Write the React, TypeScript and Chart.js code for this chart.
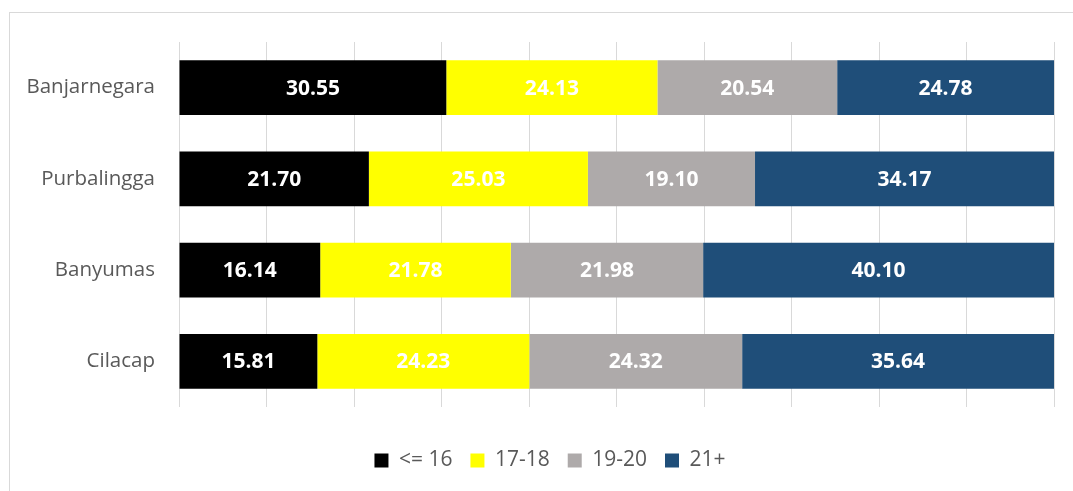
import React, { useEffect, useRef } from "react";
import { Chart, registerables } from "chart.js";

Chart.register(...registerables);

const categories = ["Banjarnegara", "Purbalingga", "Banyumas", "Cilacap"];
const seriesNames = ["<= 16", "17-18", "19-20", "21+"];
const age16 = [30.55, 21.7, 16.14, 15.81];
const age1718 = [24.13, 25.03, 21.78, 24.23];
const age1920 = [20.54, 19.1, 21.98, 24.32];
const age21 = [24.78, 34.17, 40.1, 35.64];
const seriesColors = ["#000000", "#FFFF00", "#AEAAAA", "#1F4E79"];
const xTicks = [0, 10, 20, 30, 40, 50, 60, 70, 80, 90, 100];

const valueLabels = {
  id: "valueLabels",
  afterDatasetsDraw(chart: any) {
    const ctx = chart.ctx;
    ctx.save();
    ctx.font = "bold 21px 'Open Sans', sans-serif";
    ctx.fillStyle = "#FFFFFF";
    ctx.textAlign = "center";
    ctx.textBaseline = "middle";
    chart.data.datasets.forEach((ds: any, i: number) => {
      const meta = chart.getDatasetMeta(i);
      meta.data.forEach((el: any, j: number) => {
        const v = ds.data[j];
        const cx = (el.x + el.base) / 2;
        ctx.fillText(Number(v).toFixed(2), cx, el.y + 1);
      });
    });
    ctx.restore();
  },
};

const legendShift = {
  id: "legendShift",
  afterLayout(chart: any) {
    if (chart.legend) {
      chart.legend.left += 36;
    }
  },
};

export default function App() {
  const ref = useRef<HTMLCanvasElement>(null);
  useEffect(() => {
    if (!ref.current) return;
    const data = [age16, age1718, age1920, age21];
    const chart = new Chart(ref.current, {
      type: "bar",
      data: {
        labels: categories,
        datasets: seriesNames.map((n, i) => ({
          label: n,
          data: data[i],
          backgroundColor: seriesColors[i],
          borderWidth: 0,
          barPercentage: 0.6,
          categoryPercentage: 1,
        })),
      },
      options: {
        indexAxis: "y",
        animation: false,
        responsive: false,
        maintainAspectRatio: false,
        layout: { padding: { top: 29, right: 20, left: 0, bottom: 10 } },
        scales: {
          x: {
            stacked: true,
            min: 0,
            max: 100,
            afterBuildTicks: (s: any) => {
              s.ticks = xTicks.map((v) => ({ value: v }));
            },
            ticks: { display: false },
            grid: { color: "#D9D9D9", lineWidth: 1, drawTicks: false },
            border: { display: false },
            afterFit: (s: any) => {
              s.height = 25;
              s.paddingLeft = 0;
              s.paddingRight = 0;
            },
          },
          y: {
            stacked: true,
            ticks: {
              color: "#595959",
              font: { family: "'Open Sans', sans-serif", size: 20.5 },
              padding: 24,
            },
            grid: { display: false, drawTicks: false },
            border: { display: false },
            afterFit: (s: any) => {
              s.width = 169;
              s.paddingTop = 0;
              s.paddingBottom = 0;
            },
          },
        },
        plugins: {
          legend: {
            position: "bottom",
            labels: {
              boxWidth: 14,
              boxHeight: 14,
              padding: 18,
              color: "#595959",
              font: { family: "'Open Sans', sans-serif", size: 21 },
            },
          },
          tooltip: { enabled: false },
        },
      },
      plugins: [valueLabels, legendShift],
    });
    return () => chart.destroy();
  }, []);
  return (
    <div
      style={{
        position: "absolute",
        left: 9,
        top: 12,
        width: 1066,
        height: 480,
        border: "1px solid #D9D9D9",
        background: "#FFFFFF",
      }}
    >
      <canvas ref={ref} width={1064} height={478} style={{ display: "block" }} />
    </div>
  );
}
